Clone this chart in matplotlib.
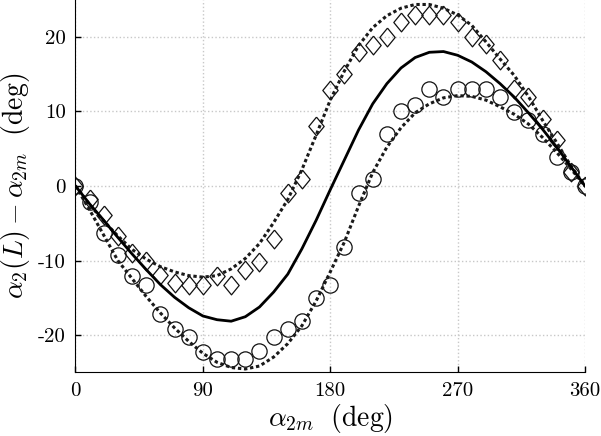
import matplotlib
matplotlib.use('Agg')
import matplotlib.pyplot as plt

# x positions (deg)
alpha_2m = [0, 10, 20, 30, 40, 50, 60, 70, 80, 90, 100, 110, 120, 130, 140, 150, 160, 170, 180,
            190, 200, 210, 220, 230, 240, 250, 260, 270, 280, 290, 300, 310, 320, 330, 340, 350, 360]

# measured points
circ_meas = [0, -2.2, -6.3, -9.2, -12.1, -13.2, -17.2, -19.1, -20.2, -22.2, -23.2, -23.2, -23.2,
             -22.1, -20.2, -19.2, -18.1, -15.0, -13.2, -8.2, -1.0, 0.9, 7.0, 10.0, 10.9, 13.0,
             11.9, 13.0, 13.0, 13.0, 11.9, 9.9, 8.9, 7.0, 3.9, 1.9, 0]
diam_meas = [0, -1.7, -3.9, -6.7, -9.0, -10.1, -11.9, -13.0, -13.3, -13.3, -12.1, -13.3, -11.2,
             -10.2, -7.1, -1.0, 0.9, 8.0, 12.9, 15.0, 18.0, 18.9, 20.0, 21.9, 22.9, 22.9, 22.9,
             21.9, 20.0, 19.0, 16.9, 13.0, 11.9, 9.0, 6.1, 1.9, 0]

# model curves
curve_mid = [0, -2.4, -4.6, -6.9, -9.1, -11.2, -13.2, -14.9, -16.3, -17.4, -17.9, -18.1, -17.5,
             -16.2, -14.2, -11.8, -8.4, -4.6, -0.5, 3.5, 7.5, 11.0, 13.7, 15.8, 17.2, 17.9, 18.0,
             17.5, 16.6, 15.3, 13.7, 11.9, 9.8, 7.6, 5.2, 2.6, 0]
curve_upper = [0, -2.5, -4.7, -6.7, -8.5, -9.8, -10.8, -11.5, -12.0, -12.2, -12.0, -11.1, -9.7,
               -7.7, -4.9, -1.8, 2.2, 6.8, 11.5, 15.4, 18.8, 21.2, 22.8, 23.8, 24.3, 24.3, 23.8,
               22.9, 21.5, 19.3, 17.0, 14.8, 12.0, 8.8, 5.8, 2.7, 0]
curve_lower = [0, -3.2, -6.6, -10.0, -12.4, -14.8, -17.0, -19.0, -20.8, -22.4, -23.6, -24.3, -24.5,
               -24.1, -22.9, -21.1, -18.7, -15.4, -11.5, -7.5, -2.7, 1.8, 5.2, 7.8, 9.8, 11.0, 11.8,
               12.1, 12.0, 11.5, 10.6, 9.6, 8.3, 6.5, 4.5, 2.3, 0]

xtick_vals = [0, 90, 180, 270, 360]
xtick_labels = ['0', '90', '180', '270', '360']
ytick_vals = [-20, -10, 0, 10, 20]
ytick_labels = ['-20', '-10', '0', '10', '20']

plt.rcParams['mathtext.fontset'] = 'cm'
plt.rcParams['axes.unicode_minus'] = False

fig = plt.figure(figsize=(6.01, 4.36), dpi=100)
ax = fig.add_axes([0.1256, 0.1468, 0.8478, 0.8532])

# matlab-like tall diamond
diamond = [(0, 1), (0.82, 0), (0, -1), (-0.82, 0), (0, 1)]

ax.plot(alpha_2m, diam_meas, linestyle='none', marker=diamond, ms=13.5,
        mfc='none', mec='#111111', mew=0.9, zorder=2)
ax.plot(alpha_2m, circ_meas, linestyle='none', marker='o', ms=11,
        mfc='none', mec='#111111', mew=0.9, zorder=2)

ax.plot(alpha_2m, curve_upper, color='#1a1a1a', ls=(0, (1.1, 0.9)), lw=2.2, zorder=3)
ax.plot(alpha_2m, curve_lower, color='#1a1a1a', ls=(0, (1.1, 0.9)), lw=2.2, zorder=3)
ax.plot(alpha_2m, curve_mid, color='k', ls='-', lw=2.0, zorder=3)

ax.set_xlim(0, 360)
ax.set_ylim(-24.9, 24.9)
ax.set_xticks(xtick_vals)
ax.set_xticklabels(xtick_labels, family='cmr10', fontsize=15)
ax.set_yticks(ytick_vals)
ax.set_yticklabels(ytick_labels, family='cmr10', fontsize=15)
ax.tick_params(direction='in', length=4, width=1, pad=7)

ax.grid(True, color='#c8c8c8', ls=':', lw=1.0)
ax.set_axisbelow(True)

ax.spines['top'].set_visible(False)
ax.spines['right'].set_visible(False)

ax.set_xlabel(r'$\alpha_{2m}\ \ \mathrm{(deg)}$', fontsize=20, labelpad=2)
ax.set_ylabel(r'$\alpha_2(L) - \alpha_{2m}\ \ \mathrm{(deg)}$', fontsize=20, labelpad=4)

fig.savefig('out.png', dpi=100)
